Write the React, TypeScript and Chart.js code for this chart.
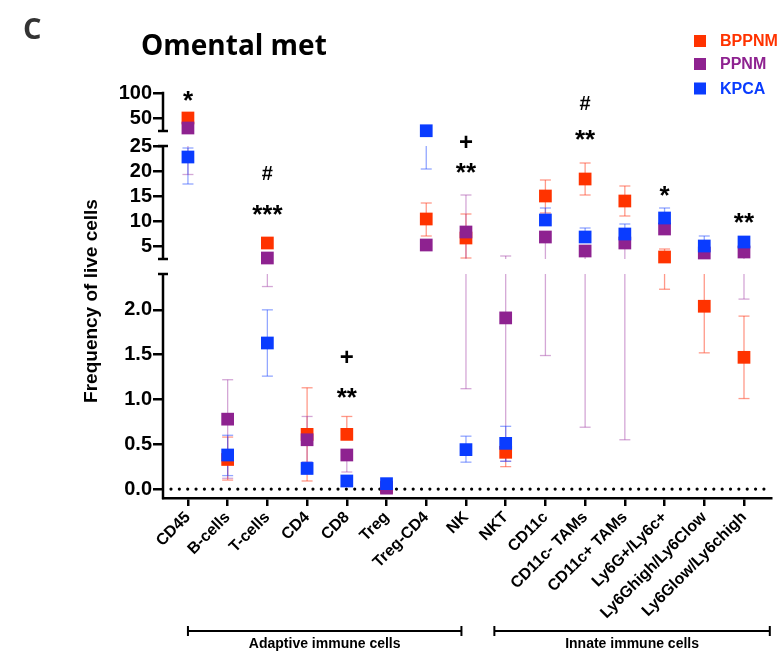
import React, { useEffect, useRef } from 'react';
import { Chart, registerables, LinearScale } from 'chart.js';

Chart.register(...registerables);

// ---------- data ----------
const categories = [
  'CD45', 'B-cells', 'T-cells', 'CD4', 'CD8', 'Treg', 'Treg-CD4', 'NK', 'NKT',
  'CD11c', 'CD11c- TAMs', 'CD11c+ TAMs', 'Ly6G+/Ly6c+', 'Ly6Ghigh/Ly6Clow', 'Ly6Glow/Ly6chigh',
];

const yTickValues = [0, 0.5, 1, 1.5, 2, 5, 10, 15, 20, 25, 50, 100];
const yTickLabels = ['0.0', '0.5', '1.0', '1.5', '2.0', '5', '10', '15', '20', '25', '50', '100'];

const bppnmMean = [51, 0.33, 5.6, 0.61, 0.61, 0.02, 10.4, 6.6, 0.41, 15.0, 18.4, 14.0, 2.8, 2.04, 1.47];
const bppnmLow = [null, 0.1, null, 0.09, null, null, 7.0, 2.6, 0.25, 11.6, 15.2, 11.0, 2.23, 1.52, 1.01];
const bppnmHigh = [null, 0.58, null, 1.13, 0.81, null, 13.6, 11.4, null, 18.2, 21.6, 17.0, 4.4, 2.6, 1.93];

const ppnmMean = [31, 0.78, 2.6, 0.55, 0.38, 0.01, 5.2, 7.8, 1.91, 6.8, 4.0, 5.6, 8.4, 3.6, 3.8];
const ppnmLow = [19.3, 0.12, 2.26, 0.3, 0.19, null, null, 1.12, 0.31, 1.49, 0.69, 0.55, null, null, 2.12];
const ppnmHigh = [null, 1.22, null, 0.81, null, null, null, 15.2, 3.0, null, null, null, null, null, null];

const kpcaMean = [22.8, 0.38, 1.63, 0.23, 0.09, 0.06, 25.5, 0.44, 0.51, 10.2, 6.8, 7.4, 10.6, 5.0, 5.8];
const kpcaLow = [17.4, 0.15, 1.26, 0.17, null, null, 20.4, 0.3, 0.31, null, null, null, null, null, null];
const kpcaHigh = [24.6, 0.6, 2.0, 0.3, null, null, null, 0.59, 0.7, 12.6, 8.6, 9.4, 12.6, 7.0, null];

// significance marks: category index, value (visual centre), pixel nudge, text
const annotations = [
  { cat: 0, value: 100, dy: 0, text: '*' },
  { cat: 2, value: 19.6, dy: 0, text: '#' },
  { cat: 2, value: 12.6, dy: 0, text: '***' },
  { cat: 4, value: 1.48, dy: 0, text: '+' },
  { cat: 4, value: 1.1, dy: 0, text: '**' },
  { cat: 7, value: 21, dy: -25, text: '+' },
  { cat: 7, value: 21, dy: 0, text: '**' },
  { cat: 10, value: 81, dy: 0, text: '#' },
  { cat: 10, value: 81, dy: 30, text: '**' },
  { cat: 12, value: 16.5, dy: 0, text: '*' },
  { cat: 14, value: 11.1, dy: 0, text: '**' },
];

const groups = [
  { label: 'Adaptive immune cells', from: 0, to: 6.886 },
  { label: 'Innate immune cells', from: 7.715, to: 14.65 },
];

const series = [
  { name: 'BPPNM', color: '#FF3300', err: 'rgba(255,70,40,0.55)', mean: bppnmMean, low: bppnmLow, high: bppnmHigh, order: 3 },
  { name: 'PPNM', color: '#8E2290', err: 'rgba(160,60,165,0.45)', mean: ppnmMean, low: ppnmLow, high: ppnmHigh, order: 2 },
  { name: 'KPCA', color: '#0A3CFF', err: 'rgba(40,80,255,0.5)', mean: kpcaMean, low: kpcaLow, high: kpcaHigh, order: 1 },
];

// ---------- broken axis layout ----------
const SEGMENTS = [
  { lo: -0.1, hi: 2.4, h: 224 },
  { lo: 2.4, hi: 25, h: 113 },
  { lo: 25, hi: 101, h: 38 },
];
const GAPS = [15, 15];
const TOTAL = SEGMENTS.reduce((a, s) => a + s.h, 0) + GAPS.reduce((a, g) => a + g, 0);

function segT(v: number): number {
  let off = 0;
  for (let k = 0; k < SEGMENTS.length; k++) {
    const s = SEGMENTS[k];
    if (v <= s.hi || k === SEGMENTS.length - 1) return off + ((v - s.lo) / (s.hi - s.lo)) * s.h;
    off += s.h + GAPS[k];
  }
  return off;
}
function segInv(t: number): number {
  let off = 0;
  for (let k = 0; k < SEGMENTS.length; k++) {
    const s = SEGMENTS[k];
    if (t <= off + s.h || k === SEGMENTS.length - 1) return s.lo + ((t - off) / s.h) * (s.hi - s.lo);
    off += s.h + GAPS[k];
  }
  return 0;
}

class BrokenScale extends LinearScale {
  static id = 'broken';
  static defaults = {};
  buildTicks() {
    return yTickValues.map((v) => ({ value: v }));
  }
  getPixelForValue(value: number) {
    return this.getPixelForDecimal(segT(value) / TOTAL);
  }
  getValueForPixel(pixel: number) {
    return segInv(this.getDecimalForPixel(pixel) * TOTAL);
  }
}
Chart.register(BrokenScale as any);

function segPixelRanges(y: any): [number, number][] {
  const out: [number, number][] = [];
  let off = 0;
  SEGMENTS.forEach((s, k) => {
    const top = y.getPixelForDecimal((off + s.h) / TOTAL);
    const bot = y.getPixelForDecimal(off / TOTAL);
    out.push([top, bot]);
    off += s.h + (GAPS[k] || 0);
  });
  return out;
}

const FONT = '"Liberation Sans", Arial, sans-serif';

const drawPlugin = {
  id: 'customDraw',
  beforeDatasetsDraw(chart: any) {
    const { ctx, chartArea, scales } = chart;
    const x = scales.x;
    const y = scales.y;
    // dotted zero line
    ctx.save();
    ctx.strokeStyle = '#000';
    ctx.lineWidth = 3.2;
    ctx.lineCap = 'round';
    ctx.setLineDash([0.001, 8.35]);
    const y0 = y.getPixelForValue(0);
    ctx.beginPath();
    ctx.moveTo(chartArea.left + 8, y0);
    ctx.lineTo(chartArea.right, y0);
    ctx.stroke();
    ctx.restore();

    // error bars
    const ranges = segPixelRanges(y);
    series.forEach((s) => {
      ctx.save();
      ctx.strokeStyle = s.err;
      ctx.lineWidth = 1.3;
      s.mean.forEach((m, i) => {
        const l = s.low[i];
        const h = s.high[i];
        if (l == null && h == null) return;
        const px = x.getPixelForValue(i);
        const pLo = y.getPixelForValue(l ?? m);
        const pHi = y.getPixelForValue(h ?? m);
        ranges.forEach(([top, bot]) => {
          const a = Math.max(top, pHi);
          const b = Math.min(bot, pLo);
          if (b > a) {
            ctx.beginPath();
            ctx.moveTo(px, a);
            ctx.lineTo(px, b);
            ctx.stroke();
          }
        });
        [l, h].forEach((v) => {
          if (v == null) return;
          const py = y.getPixelForValue(v);
          ctx.beginPath();
          ctx.moveTo(px - 5.5, py);
          ctx.lineTo(px + 5.5, py);
          ctx.stroke();
        });
      });
      ctx.restore();
    });
  },
  afterDraw(chart: any) {
    const { ctx, chartArea, scales } = chart;
    const x = scales.x;
    const y = scales.y;
    const ranges = segPixelRanges(y);
    ctx.save();
    ctx.strokeStyle = '#000';
    ctx.lineWidth = 2.5;
    const ax = chartArea.left;
    ranges.forEach(([top, bot], k) => {
      ctx.beginPath();
      ctx.moveTo(ax, top - (k === ranges.length - 1 ? 1.25 : 0));
      ctx.lineTo(ax, bot + (k === 0 ? 1.25 : 0));
      ctx.stroke();
      if (k > 0) {
        ctx.beginPath();
        ctx.moveTo(ax - 5, bot);
        ctx.lineTo(ax + 5, bot);
        ctx.stroke();
      }
      if (k < ranges.length - 1) {
        ctx.beginPath();
        ctx.moveTo(ax - 5, top);
        ctx.lineTo(ax + 5, top);
        ctx.stroke();
      }
    });

    // y title
    ctx.fillStyle = '#000';
    ctx.save();
    ctx.translate(92, 301);
    ctx.rotate(-Math.PI / 2);
    ctx.font = `bold 19px ${FONT}`;
    ctx.textAlign = 'center';
    ctx.textBaseline = 'middle';
    ctx.fillText('Frequency of live cells', 0, 0);
    ctx.restore();

    // panel letter and title
    ctx.textAlign = 'left';
    ctx.textBaseline = 'alphabetic';
    ctx.fillStyle = '#333';
    ctx.font = 'bold 29px "Open Sans", sans-serif';
    ctx.fillText('C', 23, 39);
    ctx.fillStyle = '#000';
    ctx.font = 'bold 28px "Open Sans", sans-serif';
    ctx.fillText('Omental met', 141, 55);

    // legend
    const legendY = [41, 64, 88.5];
    series.forEach((s, i) => {
      ctx.fillStyle = s.color;
      ctx.fillRect(694, legendY[i] - 6, 12, 12);
      ctx.font = `bold 16px ${FONT}`;
      ctx.textBaseline = 'middle';
      ctx.fillText(s.name, 720, legendY[i] + 1);
    });

    // significance annotations
    ctx.fillStyle = '#000';
    ctx.textAlign = 'center';
    ctx.textBaseline = 'alphabetic';
    annotations.forEach((a) => {
      const px = x.getPixelForValue(a.cat);
      const py = y.getPixelForValue(a.value) + a.dy;
      let size = 26;
      let k = 0.58;
      if (a.text === '#') { size = 20; k = 0.35; }
      if (a.text === '+') { size = 24; k = 0.355; }
      ctx.font = `bold ${size}px ${FONT}`;
      ctx.fillText(a.text, px, py + k * size);
    });

    // group brackets
    ctx.strokeStyle = '#000';
    ctx.lineWidth = 2;
    const gy = 631;
    groups.forEach((g) => {
      const x1 = x.getPixelForValue(g.from);
      const x2 = x.getPixelForValue(g.to);
      ctx.beginPath();
      ctx.moveTo(x1, gy);
      ctx.lineTo(x2, gy);
      ctx.moveTo(x1, gy - 5);
      ctx.lineTo(x1, gy + 5);
      ctx.moveTo(x2, gy - 5);
      ctx.lineTo(x2, gy + 5);
      ctx.stroke();
      ctx.font = `bold 14px ${FONT}`;
      ctx.textAlign = 'center';
      ctx.textBaseline = 'middle';
      ctx.fillText(g.label, (x1 + x2) / 2, 644);
    });
    ctx.restore();
  },
};

export default function App() {
  const canvasRef = useRef<HTMLCanvasElement | null>(null);

  useEffect(() => {
    if (!canvasRef.current) return;
    const chart = new Chart(canvasRef.current, {
      type: 'scatter',
      data: {
        datasets: series.map((s) => ({
          label: s.name,
          data: s.mean.map((v, i) => ({ x: i, y: v })),
          pointStyle: 'rect',
          pointRadius: 9,
          pointHoverRadius: 9,
          pointBackgroundColor: s.color,
          pointBorderColor: s.color,
          pointBorderWidth: 0,
          showLine: false,
          order: s.order,
          clip: false as any,
        })),
      },
      options: {
        animation: false,
        responsive: true,
        maintainAspectRatio: false,
        layout: { padding: { top: 93, right: 8, left: 0, bottom: 0 } },
        plugins: { legend: { display: false }, tooltip: { enabled: false } },
        scales: {
          x: {
            type: 'linear',
            min: -0.628,
            max: 14.68,
            afterBuildTicks: (s: any) => {
              s.ticks = categories.map((_, i) => ({ value: i }));
            },
            afterFit: (s: any) => {
              s.height = 156;
            },
            ticks: {
              autoSkip: false,
              minRotation: 45,
              maxRotation: 45,
              padding: 2,
              color: '#000',
              font: { family: FONT, size: 16, weight: 'bold' },
              callback: (v: any) => categories[v as number] ?? '',
            },
            grid: {
              display: true,
              drawOnChartArea: false,
              drawTicks: true,
              tickLength: 8,
              color: '#000',
              lineWidth: 2.5,
            },
            border: { display: true, color: '#000', width: 2.5 },
          },
          y: {
            type: 'broken' as any,
            min: -0.1,
            max: 101,
            afterFit: (s: any) => {
              s.width = 163;
            },
            ticks: {
              autoSkip: false,
              padding: 1,
              color: '#000',
              font: { family: FONT, size: 20, weight: 'bold' },
              callback: (_v: any, i: number) => yTickLabels[i],
            },
            grid: {
              display: true,
              drawOnChartArea: false,
              drawTicks: true,
              tickLength: 10,
              color: '#000',
              lineWidth: 2.5,
            },
            border: { display: false },
          },
        },
      } as any,
      plugins: [drawPlugin],
    });
    return () => chart.destroy();
  }, []);

  return (
    <div style={{ position: 'absolute', left: 0, top: 0, width: 780, height: 654, background: '#fff' }}>
      <canvas ref={canvasRef} />
    </div>
  );
}
